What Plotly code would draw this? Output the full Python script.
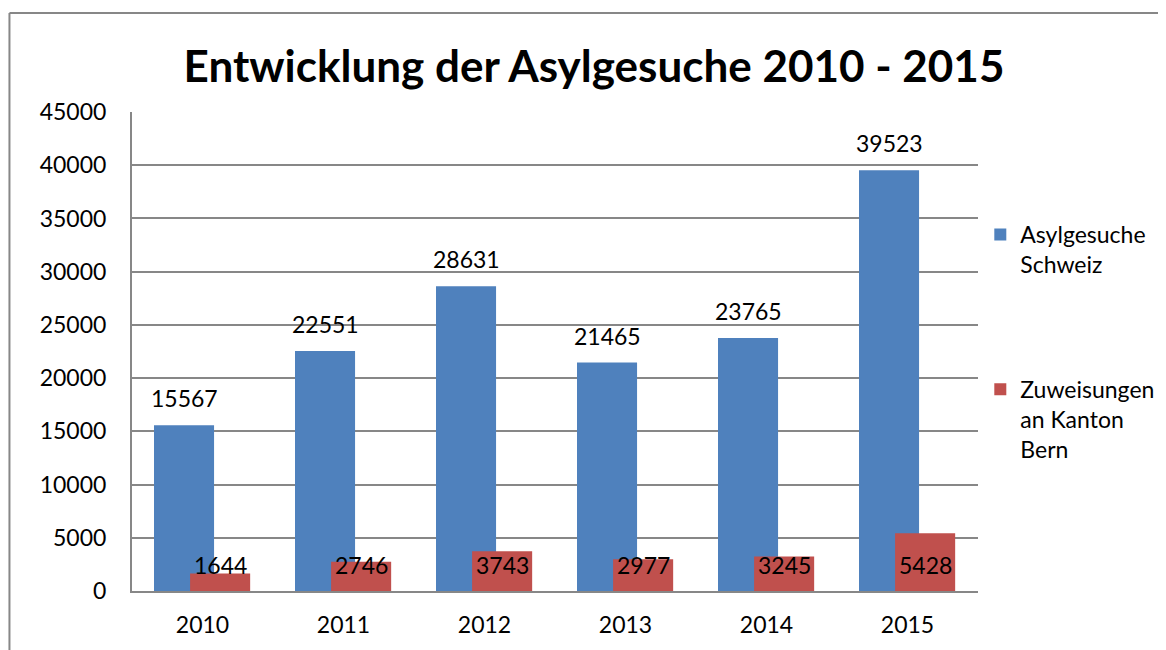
import plotly.graph_objects as go

years = ["2010", "2011", "2012", "2013", "2014", "2015"]
asyl_schweiz = [15567, 22551, 28631, 21465, 23765, 39523]
zuweisungen_bern = [1644, 2746, 3743, 2977, 3245, 5428]
series_names = ["Asylgesuche<br>Schweiz", "Zuweisungen<br>an Kanton<br>Bern"]
title_text = "Entwicklung der Asylgesuche 2010 - 2015"

# page body adds an 8px margin; work in screen pixels and shift
OFF = 8
W, H = 1166 - OFF, 650 - OFF
L = 132 - OFF
T = 112 - OFF
R = W - (977.7 - OFF)
B = H - (591 - OFF)
pw, ph = W - L - R, H - T - B

BLUE = "#4F81BD"
RED = "#C0504D"
GRID = "#878787"
FONT = "Lato, 'Open Sans', sans-serif"

bar_w = 0.426
blue_off = -0.344
red_off = -0.088
xs = list(range(len(years)))

fig = go.Figure()
fig.add_trace(go.Bar(
    x=xs, y=asyl_schweiz, name=series_names[0], marker_color=BLUE,
    width=bar_w, offset=blue_off, marker_line_width=0, legendgroup="a",
))
fig.add_trace(go.Bar(
    x=xs, y=zuweisungen_bern, name=series_names[1], marker_color=RED,
    width=bar_w, offset=red_off, marker_line_width=0, legendgroup="b",
))

annotations = []
for i, v in enumerate(asyl_schweiz):
    annotations.append(dict(
        x=i + blue_off + bar_w / 2, y=v, text=str(v), showarrow=False,
        xref="x", yref="y", yanchor="middle", yshift=27,
        font=dict(size=23, color="black", family=FONT),
    ))
for i, v in enumerate(zuweisungen_bern):
    annotations.append(dict(
        x=i + red_off + bar_w / 2, y=0, text=str(v), showarrow=False,
        xref="x", yref="y", yanchor="middle", yshift=26,
        font=dict(size=23, color="black", family=FONT),
    ))

def sx(px):  # screen px -> paper x
    return (px - OFF - L) / pw

def sy(py):  # screen px -> paper y
    return (H - B - (py - OFF)) / ph

shapes = [
    dict(type="line", xref="paper", yref="paper",
         x0=sx(9.5), x1=sx(9.5), y0=sy(13), y1=sy(660),
         line=dict(color=GRID, width=2)),
    dict(type="line", xref="paper", yref="paper",
         x0=sx(9.5), x1=sx(1180), y0=sy(13), y1=sy(13),
         line=dict(color=GRID, width=2)),
]

fig.update_layout(
    width=W, height=H,
    margin=dict(l=L, r=R, t=T, b=B, pad=0, autoexpand=False),
    paper_bgcolor="white", plot_bgcolor="white",
    barmode="overlay",
    font=dict(family=FONT, size=23, color="black"),
    title=dict(text="<b>" + title_text + "</b>", x=(594 - OFF) / W, xanchor="center",
               y=1 - (67 - OFF) / H, yanchor="middle",
               font=dict(size=44, family=FONT, color="black")),
    showlegend=True,
    legend=dict(x=sx(980), y=sy(213), xanchor="left", yanchor="top",
                valign="top", tracegroupgap=92, font=dict(size=23, family=FONT),
                bgcolor="rgba(0,0,0,0)", traceorder="grouped"),
    annotations=annotations,
    shapes=shapes,
)
fig.update_xaxes(
    range=[-0.5, len(years) - 0.5], tickvals=xs, ticktext=years,
    showgrid=False, showline=True, linecolor=GRID, linewidth=2,
    ticks="", ticklabelstandoff=12, zeroline=False,
    tickfont=dict(size=23, family=FONT),
)
fig.update_yaxes(
    range=[0, 45000], tick0=0, dtick=5000, tickformat="d",
    showgrid=True, gridcolor=GRID, gridwidth=1.5,
    showline=True, linecolor=GRID, linewidth=2,
    ticks="", ticklabelstandoff=19, zeroline=False,
    tickfont=dict(size=23, family=FONT),
)

fig.write_html("out.html")
